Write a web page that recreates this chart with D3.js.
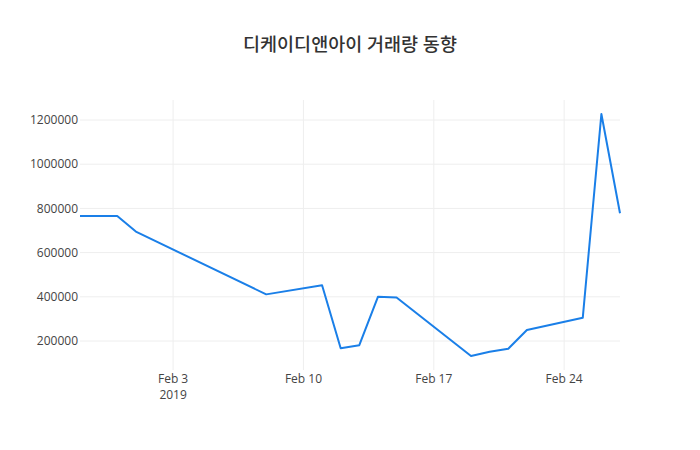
<!DOCTYPE html>
<html>
<head>
<meta charset="utf-8">
<script src="https://cdn.jsdelivr.net/npm/d3@7"></script>
<style>
  body { margin: 0; background: #fff; }
  text { font-family: "Open Sans", "Noto Sans CJK KR", sans-serif; }
</style>
</head>
<body>
<div id="chart"></div>
<script>
// Chart data
// ---------------------------------------------------------
const dates = [
    "2019-01-29", "2019-01-30", "2019-01-31", "2019-02-01", "2019-02-08",
    "2019-02-11", "2019-02-12", "2019-02-13", "2019-02-14", "2019-02-15",
    "2019-02-19", "2019-02-20", "2019-02-21", "2019-02-22", "2019-02-25",
    "2019-02-26", "2019-02-27"
];
const volumes = [
    766000, 766000, 766000, 695000, 411000,
    452000, 167000, 181000, 400000, 397000,
    132000, 151000, 165000, 250000, 305000,
    1227000, 778000
];
const yTicks = [200000, 400000, 600000, 800000, 1000000, 1200000];
const xTicks = ["2019-02-03", "2019-02-10", "2019-02-17", "2019-02-24"];
const titleText = "디케이디앤아이 거래량 동향";

let width = 700,
    height = 450,
    margin = {top: 100, right: 80, bottom: 80, left: 80};

let parse = d3.timeParse("%Y-%m-%d");
let data = dates.map((d, i) => ({date: parse(d), value: volumes[i]}));

let svg = d3.select("#chart").append("svg")
    .attr("width", width)
    .attr("height", height);

// Scales
// ---------------------------------------------------------
let x = d3.scaleTime()
    .domain(d3.extent(data, d => d.date))
    .range([margin.left, width - margin.right]);

let y = d3.scaleLinear()
    .domain([68800, 1290500])
    .range([height - margin.bottom, margin.top]);

// Grid
// ---------------------------------------------------------
svg.append("g")
    .selectAll("line")
    .data(yTicks)
    .enter()
    .append("line")
        .attr("x1", margin.left)
        .attr("x2", width - margin.right)
        .attr("y1", d => y(d))
        .attr("y2", d => y(d))
        .attr("stroke", "#eee")
        .attr("stroke-width", 1);

svg.append("g")
    .selectAll("line")
    .data(xTicks.map(parse))
    .enter()
    .append("line")
        .attr("x1", d => x(d))
        .attr("x2", d => x(d))
        .attr("y1", margin.top)
        .attr("y2", height - margin.bottom)
        .attr("stroke", "#eee")
        .attr("stroke-width", 1);

// Axes labels
// ---------------------------------------------------------
svg.append("g")
    .selectAll("text")
    .data(yTicks)
    .enter()
    .append("text")
        .attr("x", margin.left - 2)
        .attr("y", d => y(d))
        .attr("dy", "0.35em")
        .attr("text-anchor", "end")
        .attr("font-size", 12)
        .attr("fill", "#444")
        .text(d => d);

let fmt = d3.timeFormat("%b %-d");
let xTickDates = xTicks.map(parse);

svg.append("g")
    .selectAll("text")
    .data(xTickDates)
    .enter()
    .append("text")
        .attr("x", d => x(d))
        .attr("y", 379)
        .attr("dy", "0.35em")
        .attr("text-anchor", "middle")
        .attr("font-size", 12)
        .attr("fill", "#444")
        .text(d => fmt(d));

// year label under the first tick
svg.append("text")
    .datum(xTickDates[0])
    .attr("x", d => x(d))
    .attr("y", 395)
    .attr("dy", "0.35em")
    .attr("text-anchor", "middle")
    .attr("font-size", 12)
    .attr("fill", "#444")
    .text(d => d.getFullYear());

// Line
// ---------------------------------------------------------
let lineGen = d3.line()
    .x(d => x(d.date))
    .y(d => y(d.value));

svg.append("path")
    .datum(data)
    .attr("d", lineGen)
    .attr("fill", "none")
    .attr("stroke", "#1a7fe8")
    .attr("stroke-width", 2)
    .attr("stroke-linejoin", "round");

// Title
// ---------------------------------------------------------
svg.append("text")
    .attr("x", width / 2)
    .attr("y", 51)
    .attr("text-anchor", "middle")
    .attr("font-size", 18.5)
    .attr("font-weight", 500)
    .attr("fill", "#333")
    .text(titleText);
</script>
</body>
</html>
